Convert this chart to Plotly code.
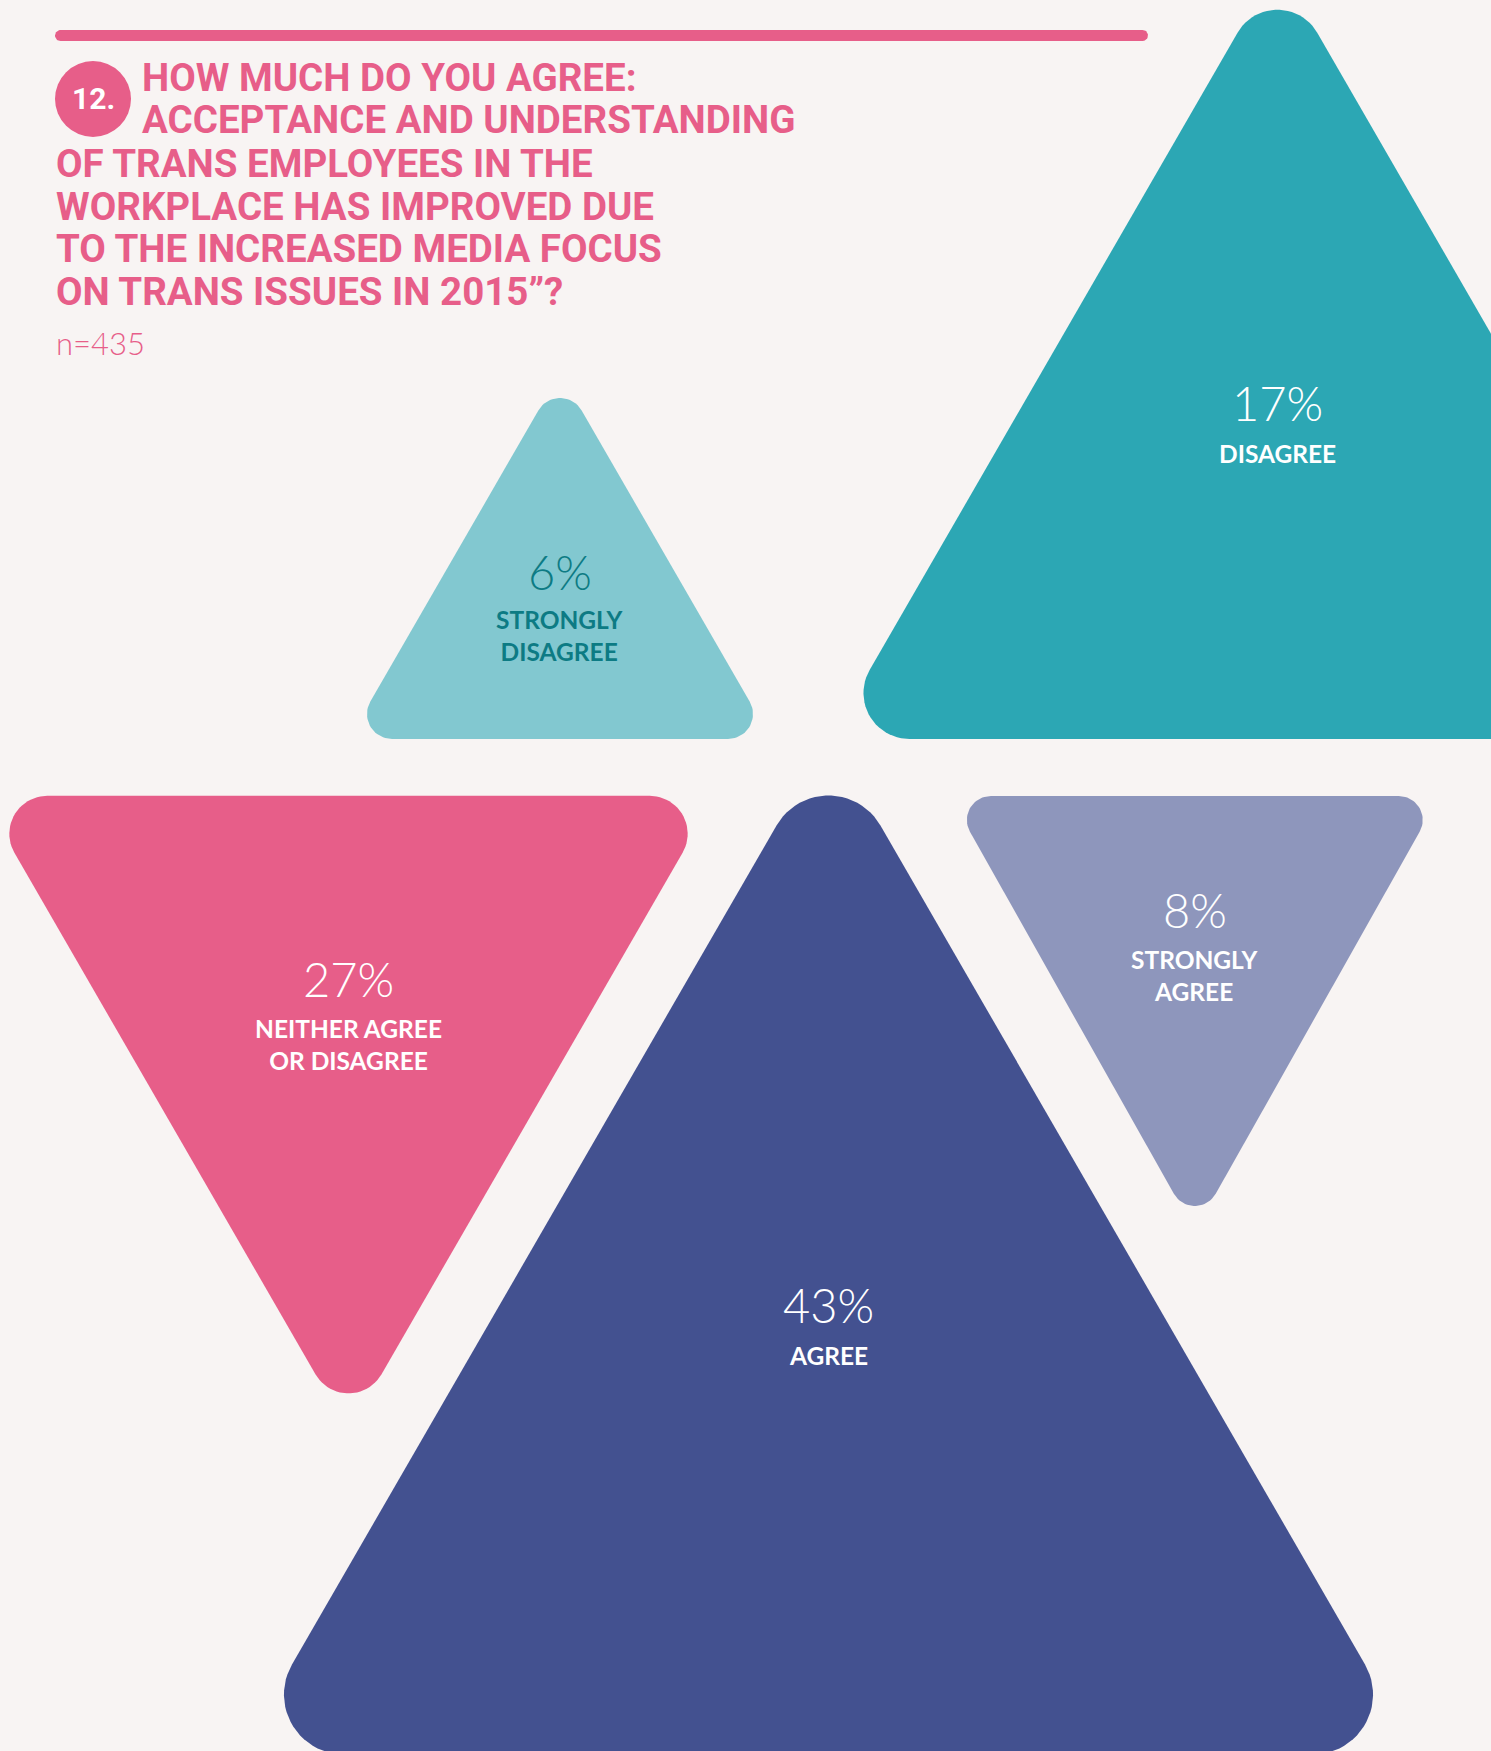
import numpy as np
import plotly.graph_objects as go

# ---------------- data ----------------
categories = ["STRONGLY<br>DISAGREE", "DISAGREE", "NEITHER AGREE<br>OR DISAGREE", "AGREE", "STRONGLY<br>AGREE"]
values = [6, 17, 27, 43, 8]
colors = ["#82C8D0", "#2CA7B4", "#E75E89", "#435190", "#8E96BC"]
text_colors = ["#0D7B84", "#FFFFFF", "#FFFFFF", "#FFFFFF", "#FFFFFF"]

title_lines = [
    "HOW MUCH DO YOU AGREE:",
    "ACCEPTANCE AND UNDERSTANDING",
    "OF TRANS EMPLOYEES IN THE",
    "WORKPLACE HAS IMPROVED DUE",
    "TO THE INCREASED MEDIA FOCUS",
    "ON TRANS ISSUES IN 2015\u201d?",
]
question_number = "12."
sample_note = "n=435"

# ---------------- layout geometry (pixels) ----------------
W, H = 1491, 1751
BG = "#F8F4F3"
PINK = "#E75E89"

tri_center_x = [560, 1277.4, 348.5, 828.5, 1194.8]
tri_flat_y = [739, 739, 795.8, 1754.5, 796]
tri_width = [422.6, 895.2, 734, 1177, 490]
tri_height = [366, 775.3, 635.6, 1019, 435]
tri_dir = ["up", "up", "down", "up", "down"]
tri_radius = [25, 46, 38, 60, 24]
pct_y = [572, 403, 979, 1305, 910]
label_y = [635, 453, 1044, 1355, 975]

title_x = [140, 140, 54, 54, 54, 54]
title_y = [77, 119.5, 163, 206, 248.5, 291.5]


def rounded_polygon(verts, r, n=24):
    verts = np.asarray(verts, float)
    m = len(verts)
    xs, ys = [], []
    for i in range(m):
        P, V, N = verts[i - 1], verts[i], verts[(i + 1) % m]
        u1 = (P - V) / np.linalg.norm(P - V)
        u2 = (N - V) / np.linalg.norm(N - V)
        theta = np.arccos(np.clip(np.dot(u1, u2), -1, 1))
        d = r / np.tan(theta / 2)
        bis = u1 + u2
        bis /= np.linalg.norm(bis)
        C = V + bis * r / np.sin(theta / 2)
        T1, T2 = V + u1 * d, V + u2 * d
        a1 = np.arctan2(T1[1] - C[1], T1[0] - C[0])
        a2 = np.arctan2(T2[1] - C[1], T2[0] - C[0])
        da = (a2 - a1 + np.pi) % (2 * np.pi) - np.pi
        angs = a1 + da * np.linspace(0, 1, n)
        xs.extend(C[0] + r * np.cos(angs))
        ys.extend(C[1] + r * np.sin(angs))
    xs.append(xs[0])
    ys.append(ys[0])
    return xs, ys


fig = go.Figure()

# top rule
bx, by = rounded_polygon([(55, 30), (1148, 30), (1148, 41), (55, 41)], 5.5, 12)
fig.add_trace(go.Scatter(x=bx, y=by, fill="toself", fillcolor=PINK, mode="lines",
                         line=dict(width=0, color=PINK), hoverinfo="skip", showlegend=False))

# triangles
for cx, fy, w, h, d, r, col in zip(tri_center_x, tri_flat_y, tri_width, tri_height,
                                   tri_dir, tri_radius, colors):
    if d == "up":
        verts = [(cx, fy - h), (cx + w / 2, fy), (cx - w / 2, fy)]
    else:
        verts = [(cx - w / 2, fy), (cx + w / 2, fy), (cx, fy + h)]
    xs, ys = rounded_polygon(verts, r)
    fig.add_trace(go.Scatter(x=xs, y=ys, fill="toself", fillcolor=col, mode="lines",
                             line=dict(width=0, color=col), hoverinfo="skip", showlegend=False))

annotations = []
# percentages + labels
for cx, py, ly, v, cat, tc in zip(tri_center_x, pct_y, label_y, values, categories, text_colors):
    annotations.append(dict(x=cx, y=py, xref="x", yref="y", text=f"{v}%", showarrow=False,
                            xanchor="center", yanchor="middle",
                            font=dict(family="Lato", size=47, color=tc, weight=300)))
    annotations.append(dict(x=cx, y=ly, xref="x", yref="y", text=cat, showarrow=False,
                            xanchor="center", yanchor="middle", align="center",
                            font=dict(family="Lato", size=24.5, color=tc, weight=700)))

# title
for tx, ty, t in zip(title_x, title_y, title_lines):
    annotations.append(dict(x=tx, y=ty, xref="x", yref="y", text=t, showarrow=False,
                            xanchor="left", yanchor="middle",
                            font=dict(family="Roboto", size=38.5, color=PINK, weight=700)))

annotations.append(dict(x=93, y=98.5, xref="x", yref="y", text=question_number, showarrow=False,
                        xanchor="center", yanchor="middle",
                        font=dict(family="Roboto", size=30, color="#FFFFFF", weight=700)))
annotations.append(dict(x=54, y=343, xref="x", yref="y", text=sample_note, showarrow=False,
                        xanchor="left", yanchor="middle",
                        font=dict(family="Lato", size=31, color=PINK, weight=300)))

fig.update_layout(
    width=W, height=H, autosize=False,
    margin=dict(l=0, r=0, t=0, b=0, pad=0),
    paper_bgcolor=BG, plot_bgcolor=BG,
    xaxis=dict(range=[0, W], visible=False, fixedrange=True),
    yaxis=dict(range=[H, 0], visible=False, fixedrange=True),
    hovermode=False,
    annotations=annotations,
    shapes=[dict(type="circle", xref="x", yref="y", x0=55, x1=131, y0=61, y1=137,
                 fillcolor=PINK, line=dict(width=0), layer="below")],
)

fig.write_html("out.html", config={"displayModeBar": False},
               post_script="document.body.style.margin='0';document.body.style.overflow='hidden';")
